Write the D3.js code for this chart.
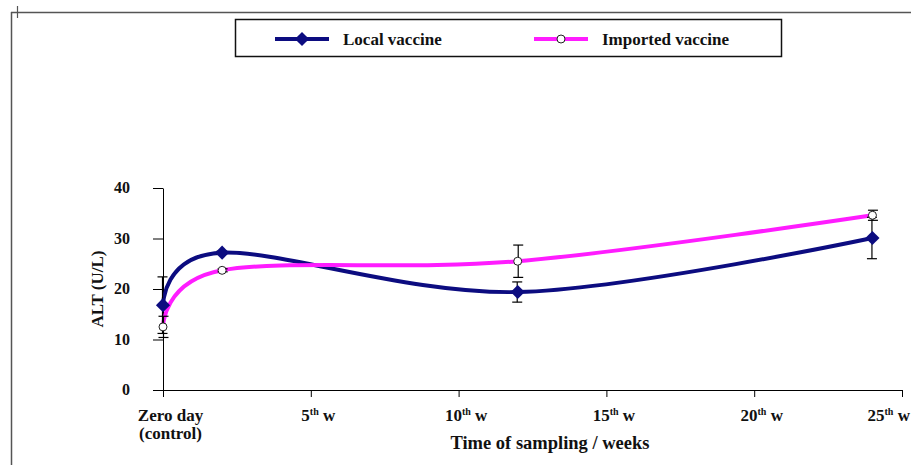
<!DOCTYPE html>
<html>
<head>
<meta charset="utf-8">
<script src="https://cdn.jsdelivr.net/npm/d3@7"></script>
<style>
  html, body { margin: 0; padding: 0; background: #fff; }
  svg text { font-family: "Liberation Serif", "Times New Roman", serif; font-weight: bold; fill: #111; }
</style>
</head>
<body>
<div id="chart"></div>
<script>
// sampling times (weeks) and ALT readings (U/L)
const weeks = [0, 2, 12, 24];
const localMean = [16.8, 27.2, 19.4, 30.1];
const localErr = [5.6, 0.3, 2.0, 4.1];
const importedMean = [12.5, 23.7, 25.5, 34.6];
const importedErr = [2.1, 0.3, 3.2, 1.0];

const xTickWeeks = [0, 5, 10, 15, 20, 25];
const xTickLabels = ["Zero day", "5", "10", "15", "20", "25"];
const yTicks = [0, 10, 20, 30, 40];
const seriesNames = ["Local vaccine", "Imported vaccine"];

const width = 911, height = 465;
const localColor = "#0c0c80", importedColor = "#ff1cff";

const svg = d3.select("#chart").append("svg")
  .attr("width", width)
  .attr("height", height);

// frame lines of the pasted figure
svg.append("line").attr("x1", 11).attr("x2", width).attr("y1", 12.5).attr("y2", 12.5)
  .attr("stroke", "#555").attr("stroke-width", 1.5);
svg.append("line").attr("x1", 11.5).attr("x2", 11.5).attr("y1", 12).attr("y2", height)
  .attr("stroke", "#555").attr("stroke-width", 1.5);
svg.append("line").attr("x1", 17.5).attr("x2", 17.5).attr("y1", 6).attr("y2", 18)
  .attr("stroke", "#555").attr("stroke-width", 1.2);

const x = d3.scaleLinear().domain([0, 25]).range([163, 902]);
const y = d3.scaleLinear().domain([0, 40]).range([390, 188]);

// y axis
const yAxis = svg.append("g")
  .attr("transform", `translate(${x(0)},0)`)
  .call(d3.axisLeft(y).tickValues(yTicks).tickSize(10).tickSizeOuter(0).tickPadding(23));
yAxis.select(".domain").attr("stroke", "#000");
yAxis.selectAll(".tick line").attr("stroke", "#000");
yAxis.selectAll(".tick text")
  .style("font-size", "16px")
  .attr("dy", "0.3em")
  .attr("fill", "#111");

// x axis
const xAxis = svg.append("g")
  .attr("transform", `translate(0,${y(0)})`)
  .call(d3.axisBottom(x).tickValues(xTickWeeks).tickSize(7).tickSizeOuter(0).tickFormat(""));
xAxis.select(".domain").attr("stroke", "#000");
xAxis.selectAll(".tick line").attr("stroke", "#000");
xAxis.selectAll(".tick").each(function(d, i) {
  const last = i === xTickWeeks.length - 1;
  const t = d3.select(this).append("text")
    .attr("x", last ? -35 : 7)
    .attr("y", 31)
    .attr("text-anchor", last ? "start" : "middle")
    .style("font-size", "17px");
  if (i === 0) {
    t.append("tspan").attr("x", 7).text(xTickLabels[i]);
    t.append("tspan").attr("x", 7).attr("dy", 18).text("(control)");
  } else {
    t.append("tspan").text(xTickLabels[i]);
    t.append("tspan").attr("dy", -6).style("font-size", "10px").text("th");
    t.append("tspan").attr("dy", 6).text(" w");
  }
});

// axis titles
svg.append("text")
  .attr("x", 550).attr("y", 449)
  .attr("text-anchor", "middle")
  .style("font-size", "18.5px")
  .text("Time of sampling / weeks");
svg.append("text")
  .attr("transform", "translate(103,289) rotate(-90)")
  .attr("text-anchor", "middle")
  .style("font-size", "17px")
  .text("ALT (U/L)");

// series
const series = [
  {name: seriesNames[0], mean: localMean, err: localErr, color: localColor, marker: "diamond"},
  {name: seriesNames[1], mean: importedMean, err: importedErr, color: importedColor, marker: "circle"}
];

const line = d3.line()
  .x(d => x(d[0]))
  .y(d => y(d[1]))
  .curve(d3.curveCatmullRom.alpha(0));

series.forEach(s => {
  svg.append("path")
    .datum(weeks.map((w, i) => [w, s.mean[i]]))
    .attr("d", line)
    .attr("fill", "none")
    .attr("stroke", s.color)
    .attr("stroke-width", 4);
});

// error bars
series.forEach(s => {
  const g = svg.append("g").attr("stroke", "#000").attr("stroke-width", 1.2);
  weeks.forEach((w, i) => {
    const cx = x(w) + (s.marker === "diamond" ? -0.5 : 0.5);
    const top = y(s.mean[i] + s.err[i]), bot = y(s.mean[i] - s.err[i]);
    g.append("line").attr("x1", cx).attr("x2", cx).attr("y1", top).attr("y2", bot);
    g.append("line").attr("x1", cx - 5).attr("x2", cx + 5).attr("y1", top).attr("y2", top);
    g.append("line").attr("x1", cx - 5).attr("x2", cx + 5).attr("y1", bot).attr("y2", bot);
  });
});

function drawMarker(g, type, cx, cy, color) {
  if (type === "diamond") {
    g.append("path")
      .attr("d", d3.symbol().type(d3.symbolSquare).size(100)())
      .attr("transform", `translate(${cx},${cy}) rotate(45)`)
      .attr("fill", color);
  } else {
    g.append("circle")
      .attr("cx", cx).attr("cy", cy).attr("r", 4)
      .attr("fill", "#fff")
      .attr("stroke", "#222")
      .attr("stroke-width", 1);
  }
}

series.forEach(s => {
  const g = svg.append("g");
  weeks.forEach((w, i) => drawMarker(g, s.marker, x(w), y(s.mean[i]), s.color));
});

// legend
const legend = svg.append("g");
legend.append("rect")
  .attr("x", 235.5).attr("y", 19.5).attr("width", 546).attr("height", 37)
  .attr("fill", "#fff").attr("stroke", "#111").attr("stroke-width", 1.5);
const legendX = [275, 534];
series.forEach((s, i) => {
  const lx = legendX[i];
  legend.append("line")
    .attr("x1", lx).attr("x2", lx + 54).attr("y1", 39).attr("y2", 39)
    .attr("stroke", s.color).attr("stroke-width", 4);
  drawMarker(legend, s.marker, lx + 27, 39, s.color);
  legend.append("text")
    .attr("x", lx + 68).attr("y", 45)
    .style("font-size", "17px")
    .text(s.name);
});
</script>
</body>
</html>
